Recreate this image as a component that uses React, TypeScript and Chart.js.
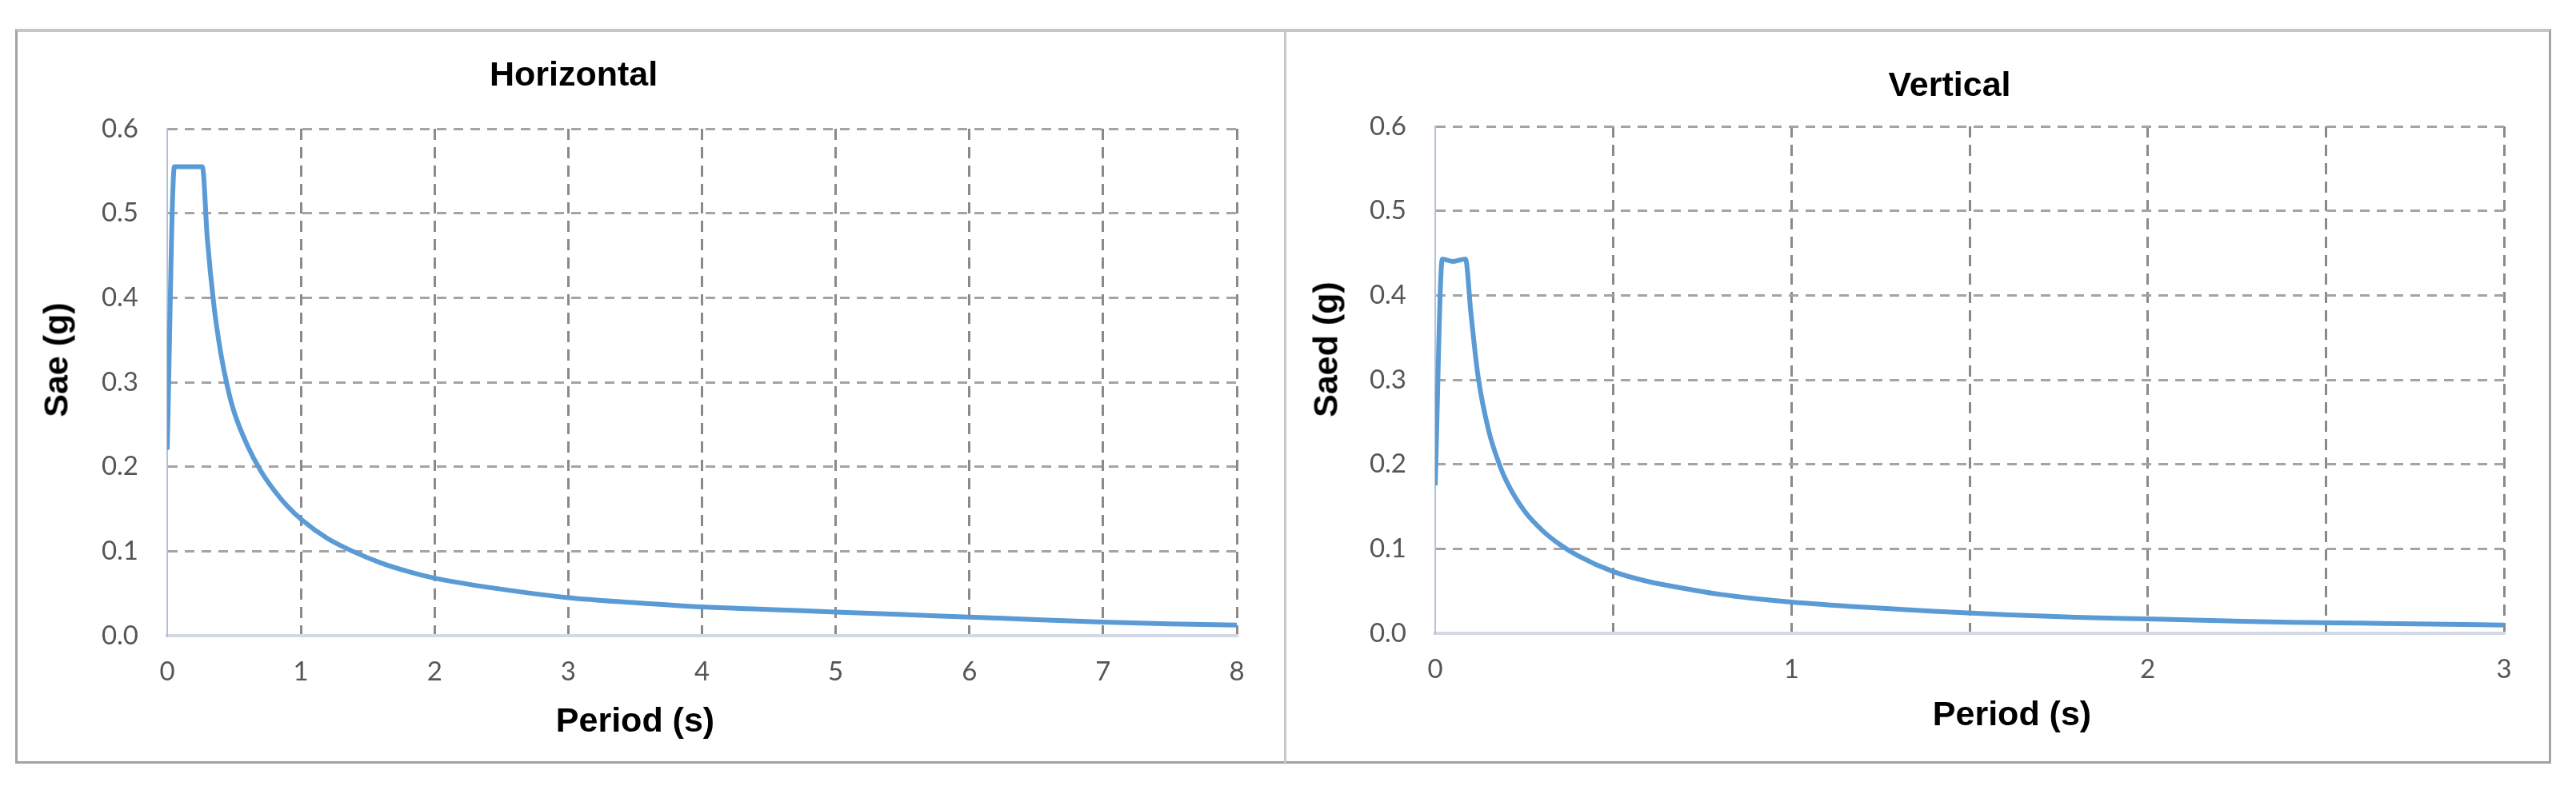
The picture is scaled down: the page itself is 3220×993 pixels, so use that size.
import React, { useEffect, useRef } from 'react';
import { Chart, registerables } from 'chart.js';

Chart.register(...registerables);

// ---- Data ----
const periodsH = [0, 0.054, 0.1, 0.15, 0.2, 0.263, 0.3, 0.35, 0.4, 0.45, 0.5, 0.6, 0.7, 0.8, 0.9, 1.0, 1.2, 1.4, 1.6, 1.8, 2.0, 2.5, 3.0, 3.5, 4.0, 4.5, 5.0, 5.5, 6.0, 6.5, 7.0, 7.5, 8.0];
const saeH = [0.22, 0.555, 0.555, 0.555, 0.555, 0.555, 0.47, 0.39, 0.335, 0.295, 0.265, 0.225, 0.195, 0.172, 0.153, 0.138, 0.115, 0.099, 0.086, 0.076, 0.068, 0.055, 0.045, 0.039, 0.034, 0.031, 0.028, 0.025, 0.022, 0.019, 0.016, 0.014, 0.0125];

const periodsV = [0, 0.02, 0.05, 0.085, 0.1, 0.12, 0.15, 0.18, 0.2, 0.25, 0.3, 0.35, 0.4, 0.5, 0.6, 0.7, 0.8, 0.9, 1.0, 1.2, 1.4, 1.6, 1.8, 2.0, 2.2, 2.4, 2.6, 2.8, 3.0];
const saedV = [0.175, 0.443, 0.44, 0.443, 0.38, 0.305, 0.24, 0.2, 0.18, 0.145, 0.122, 0.105, 0.092, 0.073, 0.061, 0.053, 0.046, 0.041, 0.037, 0.031, 0.026, 0.022, 0.019, 0.017, 0.015, 0.013, 0.012, 0.011, 0.0097];

const yMax = 0.6;
const yStep = 0.1;
const xMaxH = 8;
const xStepH = 1;
const xMaxV = 3;
const xStepV = 0.5;

const titleH = 'Horizontal';
const titleV = 'Vertical';
const xTitle = 'Period (s)';
const yTitleH = 'Sae (g)';
const yTitleV = 'Saed (g)';

const TICK_FONT = { family: 'Lato, "Open Sans", sans-serif', size: 33 };
const TICK_COLOR = '#555555';

type Cfg = {
  periods: number[];
  values: number[];
  xMax: number;
  xStep: number;
  yAxisWidth: number;
  padTop: number;
  padRight: number;
  padBottom: number;
};

function SpectrumChart(props: Cfg & { left: number; top: number; width: number; height: number }) {
  const ref = useRef<HTMLCanvasElement | null>(null);
  useEffect(() => {
    const canvas = ref.current;
    if (!canvas) return;
    const data = props.periods.map((p, i) => ({ x: p, y: props.values[i] }));
    const chart = new Chart(canvas, {
      type: 'line',
      data: {
        datasets: [
          {
            data,
            borderColor: '#5b9bd5',
            borderWidth: 6,
            pointRadius: 0,
            fill: false,
            cubicInterpolationMode: 'monotone',
          },
        ],
      },
      options: {
        responsive: false,
        animation: false,
        layout: { padding: { left: 0, top: props.padTop, right: props.padRight, bottom: props.padBottom } },
        plugins: { legend: { display: false }, tooltip: { enabled: false }, title: { display: false } },
        scales: {
          x: {
            type: 'linear',
            min: 0,
            max: props.xMax,
            ticks: {
              stepSize: props.xStep,
              autoSkip: false,
              maxRotation: 0,
              padding: 26,
              font: TICK_FONT,
              color: TICK_COLOR,
              callback: (v: any) => (Number.isInteger(Number(v)) ? String(v) : ''),
            },
            grid: {
              drawTicks: false,
              lineWidth: 3,
              color: (c: any) => (c.tick && c.tick.value === 0 ? 'rgba(0,0,0,0)' : '#8a8a8a'),
            },
            border: { display: true, color: '#d3d9e4', width: 4, dash: [14, 9] },
            afterFit: (s: any) => {
              s.height = 80;
            },
          },
          y: {
            type: 'linear',
            min: 0,
            max: yMax,
            ticks: {
              stepSize: yStep,
              padding: 36,
              font: TICK_FONT,
              color: TICK_COLOR,
              callback: (v: any) => Number(v).toFixed(1),
            },
            grid: {
              drawTicks: false,
              lineWidth: 3,
              color: (c: any) => (c.tick && c.tick.value === 0 ? 'rgba(0,0,0,0)' : '#a4a4a4'),
            },
            border: { display: true, color: '#b8c2d6', width: 2, dash: [12, 9] },
            afterFit: (s: any) => {
              s.width = props.yAxisWidth;
            },
          },
        },
      } as any,
    });
    return () => chart.destroy();
  }, []);
  return (
    <canvas
      ref={ref}
      width={props.width}
      height={props.height}
      style={{ position: 'absolute', left: props.left, top: props.top, width: props.width, height: props.height }}
    />
  );
}

function Label(p: { text: string; x: number; y: number; rotate?: boolean }) {
  return (
    <div
      style={{
        position: 'absolute',
        left: p.x,
        top: p.y,
        transform: `translate(-50%, -50%)${p.rotate ? ' rotate(-90deg)' : ''}`,
        fontFamily: '"Liberation Sans", Arial, sans-serif',
        fontWeight: 'bold',
        fontSize: 43,
        lineHeight: 1,
        color: '#000',
        whiteSpace: 'nowrap',
      }}
    >
      {p.text}
    </div>
  );
}

export default function App() {
  return (
    <div style={{ position: 'absolute', left: 0, top: 0, width: 3220, height: 993, background: '#fff', overflow: 'hidden' }}>
      {/* outer frame */}
      <div
        style={{
          position: 'absolute',
          left: 19,
          top: 36,
          width: 3170,
          height: 919,
          boxSizing: 'border-box',
          borderLeft: '3px solid #a3a3a3',
          borderRight: '3px solid #a3a3a3',
          borderBottom: '3px solid #a3a3a3',
          borderTop: '4px solid #c6c6c6',
        }}
      />
      {/* divider */}
      <div style={{ position: 'absolute', left: 1605, top: 38, width: 3, height: 916, background: '#c8c8c8' }} />

      <SpectrumChart
        periods={periodsH}
        values={saeH}
        xMax={xMaxH}
        xStep={xStepH}
        left={23}
        top={40}
        width={1580}
        height={912}
        yAxisWidth={186}
        padTop={121}
        padRight={57}
        padBottom={77}
      />
      <SpectrumChart
        periods={periodsV}
        values={saedV}
        xMax={xMaxV}
        xStep={xStepV}
        left={1609}
        top={40}
        width={1578}
        height={912}
        yAxisWidth={185}
        padTop={118}
        padRight={57}
        padBottom={80}
      />

      <Label text={titleH} x={717} y={92} />
      <Label text={titleV} x={2437} y={105} />
      <Label text={xTitle} x={794} y={900} />
      <Label text={xTitle} x={2515} y={892} />
      <Label text={yTitleH} x={70} y={450} rotate />
      <Label text={yTitleV} x={1657} y={437} rotate />
    </div>
  );
}
